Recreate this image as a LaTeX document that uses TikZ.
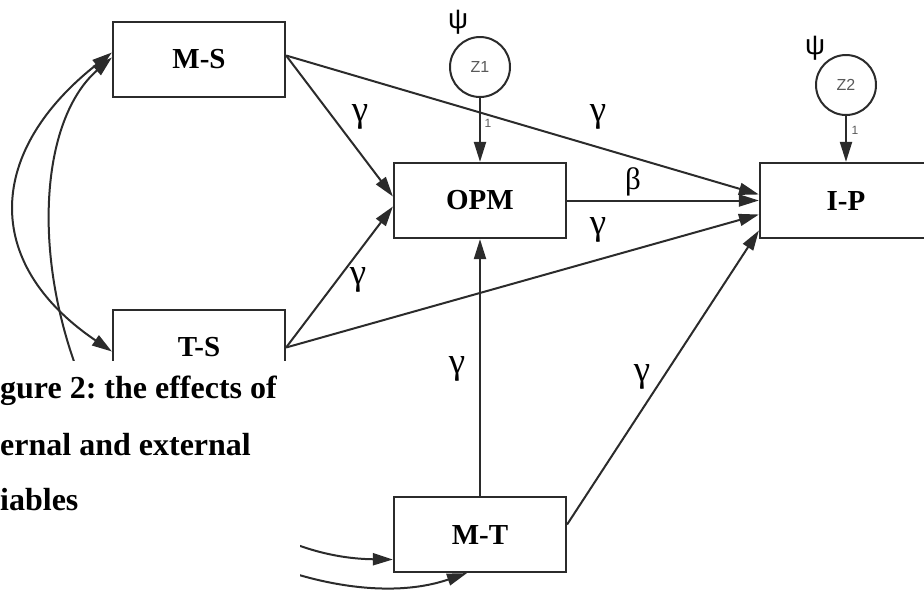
\documentclass[tikz,border=0pt]{standalone}
\usepackage{fontspec}
\setmainfont{Liberation Serif}
\newfontfamily\sansfont{Liberation Sans}
\usetikzlibrary{arrows.meta, positioning}
\definecolor{linegray}{HTML}{2B2B2B}
\frenchspacing

\begin{document}
\begin{tikzpicture}[x=1pt, y=-1pt,
  box/.style={rectangle, draw=linegray, fill=white, line width=2.2pt, minimum width=172pt, minimum height=75pt, font=\fontsize{29}{29}\selectfont\bfseries},
  err/.style={circle, draw=linegray, line width=2pt, minimum size=60pt, inner sep=0pt, text=black!65, font=\sansfont\fontsize{16}{16}\selectfont},
  arr/.style={draw=linegray, line width=2pt, -{Triangle[length=20pt,width=12pt]}},
  cov/.style={draw=linegray, line width=2pt, {Triangle[length=20pt,width=12pt]}-{Triangle[length=20pt,width=12pt]}},
  coef/.style={font=\fontsize{37}{37}\selectfont},
  psi/.style={font=\sansfont\fontsize{28}{28}\selectfont},
  one/.style={text=black!65, font=\sansfont\fontsize{12}{12}\selectfont},
  caption/.style={anchor=base west, inner sep=0pt, font=\fontsize{32}{32}\selectfont\bfseries}]
\clip (0,0) rectangle (924,590);

% Boxes
\node[box] (ms) at (199,59.5) {M-S};
\node[box] (ts) at (199,347.5) {T-S};
\node[box] (opm) at (480,200.5) {OPM};
\node[box] (mt) at (480,534.5) {M-T};
\node[box] (ip) at (846,200.5) {I-P};

% Errors
\node[err] (z1) at (480,67) {Z1};
\node[err] (z2) at (846,85) {Z2};
\node[psi] (psi1) at (458,22) {ψ};
\node[psi] (psi2) at (815,48) {ψ};

% Paths
\draw[arr] ([yshift=4pt]ms.east) -- ([yshift=4pt]opm.west);
\draw[arr] ([yshift=4pt]ms.east) -- ([yshift=6pt]ip.west);
\draw[arr] (opm.east) -- (ip.west);
\draw[arr] (ts.east) -- ([yshift=-6pt]opm.west);
\draw[arr] (ts.east) -- ([yshift=-14pt]ip.west);
\draw[arr] (mt.north) -- (opm.south);
\draw[arr] ([yshift=10pt]mt.east) -- ([yshift=-30pt]ip.west);
\draw[arr] (z1.south) -- (opm.north);
\draw[arr] (z2.south) -- (ip.north);

% Covariances
\draw[cov] ([yshift=7pt]ms.west) .. controls (-12,150) and (-20,262) .. ([yshift=-4pt]ts.west);
\draw[cov] ([yshift=2pt]ms.west) .. controls (40,120) and (30,260) .. (85,390) .. controls (110,520) and (330,620) .. ([xshift=-13pt]mt.south);
\draw[cov] ([xshift=-30pt]ts.south) .. controls (170,480) and (270,558) .. ([yshift=-25pt]mt.west);

% Coefficients
\node[coef] (g1) at (360,117) {γ};
\node[coef] (g2) at (598,117) {γ};
\node[coef, font=\fontsize{31}{31}\selectfont] (b1) at (633,182) {β};
\node[coef] (g3) at (598,230) {γ};
\node[coef] (g4) at (358,280) {γ};
\node[coef] (g5) at (457,369) {γ};
\node[coef] (g6) at (642,377) {γ};
\node[one] (one1) at (488,123) {1};
\node[one] (one2) at (855,130) {1};

% Caption
\fill[white] (0,361) rectangle (300,590);
\node[caption] (cap1) at (0,398) {gure 2: the effects of};
\node[caption] (cap2) at (0,455) {ernal and external};
\node[caption] (cap3) at (0,510) {iables};
\end{tikzpicture}
\end{document}
